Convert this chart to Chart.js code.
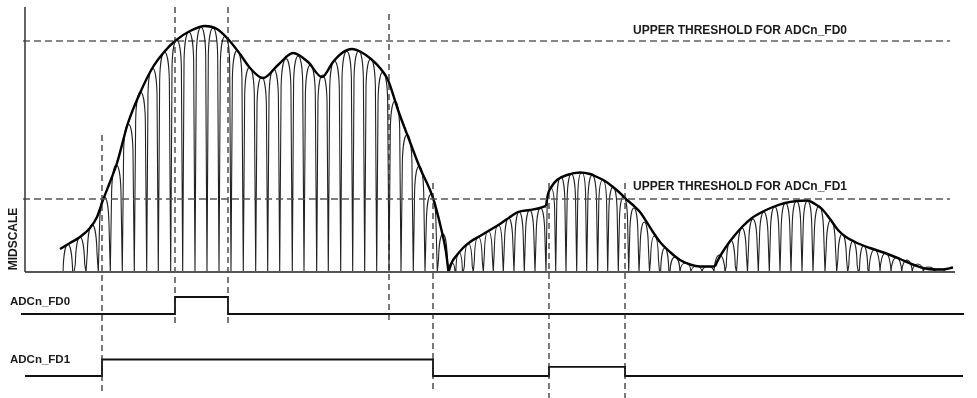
<!DOCTYPE html>
<html>
<head>
<meta charset="utf-8">
<script src="https://cdn.jsdelivr.net/npm/chart.js@4.4.1/dist/chart.umd.min.js"></script>
<style>
  html, body { margin: 0; padding: 0; background: #fff; }
  #wrap { position: relative; width: 977px; height: 398px; }
</style>
</head>
<body>
<div id="wrap"><canvas id="chart"></canvas></div>
<script>
// ============================================================
//  ADC fast-detect timing diagram
//  time  : samples from the left axis
//  level : codes above midscale
// ============================================================

const fullScale = 265;
const thrFD0    = 231;
const thrFD1    = 73;
const traceEndT = 930;

// envelope, first burst
const env1T = [35, 45, 55, 65, 72, 78, 85, 92, 103, 115, 128, 140, 150, 165, 180, 192, 203, 215, 225, 238,
               253, 268, 283, 297, 308, 317, 327, 336, 346, 355, 363, 373, 385, 395, 408, 416, 421, 423.5];
const env1A = [23, 29, 35, 44, 55, 72, 90, 109, 149, 179, 205, 221, 231, 241, 246, 243, 233, 218, 204, 194,
               207, 219, 210, 195, 210, 219, 223, 220, 213, 204, 192, 162, 130, 104, 74, 44, 20, 0];

// envelope, second burst (three pieces, joined at corners)
const env2aT = [423.5, 427, 432, 438, 445, 455, 465, 475, 485, 493, 505, 515, 521];
const env2aA = [0, 10, 17, 24, 30, 36, 42, 48, 55, 60, 62, 64, 66];
const env2bT = [521, 523, 527, 532, 542, 555, 565, 572, 580, 588, 595, 602, 608, 615, 621, 628, 635, 645, 655, 665, 675, 690];
const env2bA = [66, 78, 86, 92, 97, 99.5, 98, 95, 91, 85, 79, 72, 67, 60, 51, 40, 30, 20, 12, 7.5, 5.5, 5.5];
const env2cT = [690, 693, 697, 703, 710, 718, 727, 737, 748, 760, 772, 782, 790, 797, 805, 813, 821, 830, 845, 860, 875, 889, 903, 917, 928];
const env2cA = [5.5, 12, 19, 28, 37, 46, 54, 60, 65, 69, 71, 71.5, 68, 63, 53, 42, 35, 30, 24, 19, 13, 7, 3, 2.5, 4.5];

// rectified carrier: zero crossings and arch peaks
const burst1Cusps = [36.7, 49, 61, 73.3, 85.3, 97.3, 109.3, 121.7, 133.3, 145.7, 157.7, 170, 182, 194, 206, 218.3,
                     230.7, 242.7, 254.7, 267.3, 279, 291.7, 303.3, 315.7, 327.7, 339.7, 351.7, 364, 376, 388.3, 400, 412.3, 423.5];
const burst1Peaks = [27.7, 35, 47.4, 75.3, 107, 148, 180, 204, 220, 232, 240, 244.7, 244, 235.7, 221.6, 204.7,
                     195, 203, 213.4, 216, 207, 197, 211, 220.7, 221, 213, 200, 171, 137.5, 106, 78, 38];
const burst2Cusps = [423.5, 430, 438.3, 448.3, 458.3, 468.3, 478.3, 489, 499.3, 510, 521, 530.7, 541, 551.7, 561.7, 572.7,
                     582.7, 593.3, 603.7, 614, 624.5, 634.5, 645, 655, 666, 677, 689, 700, 711.5, 722.5, 733.3, 744.3,
                     755, 766, 777, 788, 800, 811.7, 822.7, 833.3, 844, 855, 866, 876.7, 887.3, 898.3, 909.3, 920];
const burst2Peaks = [9, 19.5, 28.5, 35, 41, 47, 54, 60, 62, 64, 84, 95, 98, 99.5, 97, 92, 85, 75.5, 64, 50,
                     36, 24, 15, 9, 6, 5.5, 17, 32, 44, 53, 60, 65.5, 69, 71, 71.3, 66, 52, 38, 31, 26.5,
                     22.5, 19, 14.5, 12, 8, 5, 3];

// threshold crossing instants (dashed markers)
const markerT      = [77, 150, 203, 364, 408, 524, 600];
const markerTop    = [137, 265, 265, 258, 89, 89, 89];
const markerBottom = [-121, -51, -51, -50, -121, -126, -126];

// flag outputs
const fd0T     = [-4, 150, 203, 939];
const fd0Level = [0, 1, 0, 0];
const fd1T     = [0, 77, 408, 524, 600, 938];
const fd1Level = [0, 1, 0, 0.55, 0, 0];

// ---------------- layout (pixels)
const W = 977, H = 398;
const axisPx = 25, midPx = 272;
const fd0Px  = { low: 314, high: 297 };
const fd1Px  = { low: 376, high: 359.5 };

function logicRange(p) {
  const k = p.low - p.high;
  const max = p.low / k;
  return { min: max - H / k, max };
}
const r0 = logicRange(fd0Px), r1 = logicRange(fd1Px);

const pts = (ts, vs) => ts.map((t, i) => ({ x: t, y: vs[i] }));
const INK = '#1c1c1c';

const datasets = [];
function line(data, opts) {
  datasets.push(Object.assign({
    data, yAxisID: 'yA', borderColor: INK, borderWidth: 1, pointRadius: 0, fill: false
  }, opts));
}

// axis and midscale baseline
line([{ x: 0, y: 0 }, { x: 0, y: fullScale }], { borderColor: '#333', borderWidth: 1.5 });
line([{ x: 0, y: 0 }, { x: traceEndT, y: 0 }], { borderColor: '#555', borderWidth: 2 });

// thresholds
line([{ x: -2, y: thrFD0 }, { x: 925, y: thrFD0 }], { borderColor: '#111', borderWidth: 1.2, borderDash: [7, 4] });
line([{ x: -2, y: thrFD1 }, { x: 925, y: thrFD1 }], { borderColor: '#555', borderWidth: 1.4, borderDash: [7, 4] });

// markers
markerT.forEach((t, i) => {
  line([{ x: t, y: markerTop[i] }, { x: t, y: markerBottom[i] }], { borderColor: '#222', borderWidth: 1.2, borderDash: [6, 4] });
});

// envelopes
[[env1T, env1A], [env2aT, env2aA], [env2bT, env2bA], [env2cT, env2cA]].forEach(([t, a]) => {
  line(pts(t, a), { borderColor: '#000', borderWidth: 2.4, cubicInterpolationMode: 'monotone' });
});

// flags
line(pts(fd0T, fd0Level), { yAxisID: 'yF0', stepped: true, borderColor: '#111', borderWidth: 1.8 });
line(pts(fd1T, fd1Level), { yAxisID: 'yF1', stepped: true, borderColor: '#111', borderWidth: 1.8 });

// arches: slightly tapering flanks with a rounded cap
const archPlugin = {
  id: 'arches',
  beforeDatasetsDraw(chart) {
    const { ctx } = chart;
    const x = chart.scales.x, yA = chart.scales.yA;
    const y0 = yA.getPixelForValue(0);
    const k = 0.5523;
    ctx.save();
    ctx.strokeStyle = '#222';
    ctx.lineWidth = 1.1;
    ctx.beginPath();
    [[burst1Cusps, burst1Peaks], [burst2Cusps, burst2Peaks]].forEach(([cusps, peaks]) => {
      peaks.forEach((pk, i) => {
        const x0 = x.getPixelForValue(cusps[i]);
        const x1 = x.getPixelForValue(cusps[i + 1]);
        const q  = (x1 - x0) / 2, xm = x0 + q;
        const yp = yA.getPixelForValue(pk);
        const hPx = y0 - yp;
        const r = Math.min(hPx, 4.5 * q);
        const lean = hPx > r ? 0.22 * q : 0;
        const xs = x0 + lean, xe = x1 - lean, ys = yp + r;
        ctx.moveTo(x0, y0);
        if (lean) ctx.lineTo(xs, ys);
        ctx.bezierCurveTo(xs + 0.06 * q, ys - k * r, xm - k * (xm - xs), yp, xm, yp);
        ctx.bezierCurveTo(xm + k * (xe - xm), yp, xe - 0.06 * q, ys - k * r, xe, ys);
        if (lean) ctx.lineTo(x1, y0);
      });
    });
    ctx.stroke();
    ctx.restore();
  }
};

const labelPlugin = {
  id: 'labels',
  afterDatasetsDraw(chart) {
    const { ctx } = chart;
    const x = chart.scales.x, yA = chart.scales.yA;
    const yF0 = chart.scales.yF0, yF1 = chart.scales.yF1;
    ctx.save();
    ctx.fillStyle = '#1a1a1a';
    ctx.textBaseline = 'middle';
    ctx.textAlign = 'left';
    ctx.font = 'bold 12px "Liberation Sans", Arial, sans-serif';
    ctx.fillText('UPPER THRESHOLD FOR ADCn_FD0', x.getPixelForValue(608), yA.getPixelForValue(thrFD0) - 10.5);
    ctx.fillText('UPPER THRESHOLD FOR ADCn_FD1', x.getPixelForValue(608), yA.getPixelForValue(thrFD1) - 12.5);
    ctx.font = 'bold 11.5px "Liberation Sans", Arial, sans-serif';
    ctx.fillText('ADCn_FD0', 10, yF0.getPixelForValue(0.7));
    ctx.fillText('ADCn_FD1', 10, yF1.getPixelForValue(0.95));
    ctx.translate(14, 239);
    ctx.rotate(-Math.PI / 2);
    ctx.textAlign = 'center';
    ctx.font = 'bold 12px "Liberation Sans", Arial, sans-serif';
    ctx.fillText('MIDSCALE', 0, 0);
    ctx.restore();
  }
};

new Chart(document.getElementById('chart'), {
  type: 'line',
  data: { datasets },
  plugins: [archPlugin, labelPlugin],
  options: {
    responsive: true,
    maintainAspectRatio: false,
    animation: false,
    layout: { padding: 0 },
    events: [],
    plugins: { legend: { display: false }, tooltip: { enabled: false } },
    scales: {
      x:   { type: 'linear', display: false, min: -axisPx, max: W - axisPx },
      yA:  { type: 'linear', display: false, min: midPx - H, max: midPx },
      yF0: { type: 'linear', display: false, min: r0.min, max: r0.max },
      yF1: { type: 'linear', display: false, min: r1.min, max: r1.max }
    }
  }
});
</script>
</body>
</html>
